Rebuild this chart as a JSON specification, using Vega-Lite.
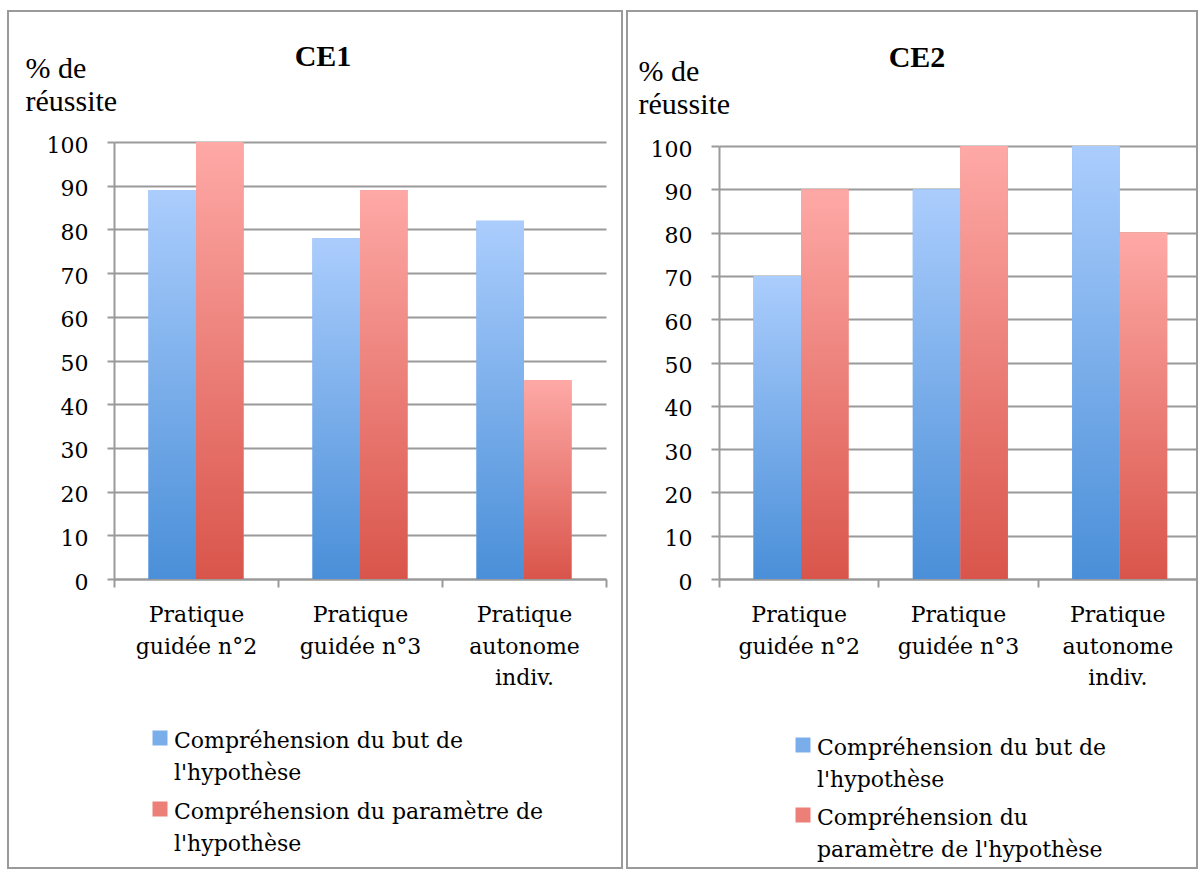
{
  "$schema": "https://vega.github.io/schema/vega-lite/v6.json",
  "background": "white",
  "padding": {"left": 7, "top": 10, "right": 0, "bottom": 0},
  "spacing": 3,
  "config": {
    "view": {"stroke": "#9a9a9a", "strokeWidth": 2},
    "style": {"guide-label": {"lineHeight": 32.5, "dy": 9.5}}
  },
  "datasets": {
    "d": [
      {"classe": "CE1", "pratique": "Pratique guidée n°2", "serie": "Compréhension du but de l'hypothèse", "valeur": 89},
      {"classe": "CE1", "pratique": "Pratique guidée n°2", "serie": "Compréhension du paramètre de l'hypothèse", "valeur": 100},
      {"classe": "CE1", "pratique": "Pratique guidée n°3", "serie": "Compréhension du but de l'hypothèse", "valeur": 78},
      {"classe": "CE1", "pratique": "Pratique guidée n°3", "serie": "Compréhension du paramètre de l'hypothèse", "valeur": 89},
      {"classe": "CE1", "pratique": "Pratique autonome indiv.", "serie": "Compréhension du but de l'hypothèse", "valeur": 82},
      {"classe": "CE1", "pratique": "Pratique autonome indiv.", "serie": "Compréhension du paramètre de l'hypothèse", "valeur": 45.5},
      {"classe": "CE2", "pratique": "Pratique guidée n°2", "serie": "Compréhension du but de l'hypothèse", "valeur": 70},
      {"classe": "CE2", "pratique": "Pratique guidée n°2", "serie": "Compréhension du paramètre de l'hypothèse", "valeur": 90},
      {"classe": "CE2", "pratique": "Pratique guidée n°3", "serie": "Compréhension du but de l'hypothèse", "valeur": 90},
      {"classe": "CE2", "pratique": "Pratique guidée n°3", "serie": "Compréhension du paramètre de l'hypothèse", "valeur": 100},
      {"classe": "CE2", "pratique": "Pratique autonome indiv.", "serie": "Compréhension du but de l'hypothèse", "valeur": 100},
      {"classe": "CE2", "pratique": "Pratique autonome indiv.", "serie": "Compréhension du paramètre de l'hypothèse", "valeur": 80}
    ]
  },
  "resolve": {"scale": {"fill": "independent", "x": "independent", "y": "independent"}, "legend": {"fill": "independent"}},
  "hconcat": [
    {
      "width": 614,
      "height": 857,
      "data": {"name": "d"},
      "transform": [{"filter": "datum.classe == 'CE1'"}],
      "title": {"text": "CE1", "font": "Liberation Serif", "fontSize": 30, "fontWeight": "bold", "color": "black", "anchor": "middle", "frame": "group", "baseline": "alphabetic", "offset": -85, "dx": 8},
      "encoding": {
        "x": {
          "field": "pratique", "type": "nominal",
          "sort": ["Pratique guidée n°2", "Pratique guidée n°3", "Pratique autonome indiv."],
          "scale": {"range": [106, 598], "paddingInner": 0, "paddingOuter": 0},
          "axis": {
            "orient": "bottom", "offset": -289, "tickBand": "extent", "grid": false, "title": null,
            "domainColor": "#9a9a9a", "domainWidth": 2, "tickColor": "#9a9a9a", "tickWidth": 2, "tickSize": 8,
            "labelFont": "DejaVu Serif", "labelFontSize": 22, "labelColor": "black", "labelAngle": 0,
            "labelBaseline": "alphabetic", "labelPadding": 25, "labelLineHeight": 31.5, "labelLimit": 400,
            "labelExpr": "datum.label == 'Pratique guidée n°2' ? ['Pratique', 'guidée n°2'] : datum.label == 'Pratique guidée n°3' ? ['Pratique', 'guidée n°3'] : datum.label == 'Pratique autonome indiv.' ? ['Pratique', 'autonome', 'indiv.'] : ''"
          }
        },
        "xOffset": {
          "field": "serie", "type": "nominal",
          "sort": ["Compréhension du but de l'hypothèse", "Compréhension du paramètre de l'hypothèse"],
          "scale": {"paddingInner": 0, "paddingOuter": 0.725}
        },
        "y": {
          "field": "valeur", "type": "quantitative",
          "scale": {"domain": [0, 100], "range": [568, 131], "nice": false, "zero": true},
          "axis": {
            "orient": "left", "offset": -106, "values": [0, 10, 20, 30, 40, 50, 60, 70, 80, 90, 100],
            "grid": true, "gridColor": "#9a9a9a", "gridWidth": 2,
            "domainColor": "#9a9a9a", "domainWidth": 2, "tickColor": "#9a9a9a", "tickWidth": 2, "tickSize": 7,
            "labelFont": "DejaVu Serif", "labelFontSize": 22, "labelColor": "black", "labelPadding": 19, "labelOffset": -6.5, "labelOverlap": false,
            "title": ["% de", "réussite"], "titleFont": "Liberation Serif", "titleFontSize": 30, "titleFontWeight": "normal", "titleColor": "black",
            "titleAngle": 0, "titleAlign": "left", "titleBaseline": "alphabetic", "titleX": -89, "titleY": 66, "titleLineHeight": 33
          }
        }
      },
      "layer": [
        {
          "mark": {"type": "bar", "strokeWidth": 0},
          "encoding": {
            "fill": {
              "field": "serie", "type": "nominal",
              "scale": {"domain": ["Compréhension du but de l'hypothèse", "Compréhension du paramètre de l'hypothèse"], "range": ["#7aaeea", "#ec7f77"]},
              "legend": {
                "orient": "none", "legendX": 141, "legendY": 716, "direction": "vertical", "title": null, "padding": 0,
                "symbolType": "square", "symbolSize": 225, "symbolStrokeWidth": 0,
                "labelFont": "DejaVu Serif", "labelFontSize": 22, "labelColor": "black", "labelOffset": 3,
                "labelBaseline": "alphabetic", "labelLimit": 600, "rowPadding": 14,
                "labelExpr": "indexof(datum.label, 'but') >= 0 ? ['Compréhension du but de', \"l'hypothèse\"] : ['Compréhension du paramètre de', \"l'hypothèse\"]"
              }
            }
          }
        },
        {
          "mark": {"type": "bar", "strokeWidth": 0},
          "encoding": {
            "fill": {
              "condition": {"test": "indexof(datum.serie, 'but') >= 0", "value": {"gradient": "linear", "x1": 0, "y1": 0, "x2": 0, "y2": 1, "stops": [{"offset": 0, "color": "#abcdfd"}, {"offset": 1, "color": "#4a8fd8"}]}},
              "value": {"gradient": "linear", "x1": 0, "y1": 0, "x2": 0, "y2": 1, "stops": [{"offset": 0, "color": "#fea9a6"}, {"offset": 1, "color": "#d9554b"}]}
            }
          }
        }
      ]
    },
    {
      "width": 570,
      "height": 857,
      "data": {"name": "d"},
      "transform": [{"filter": "datum.classe == 'CE2'"}],
      "title": {"text": "CE2", "font": "Liberation Serif", "fontSize": 30, "fontWeight": "bold", "color": "black", "anchor": "middle", "frame": "group", "baseline": "alphabetic", "offset": -86, "dx": 5},
      "encoding": {
        "x": {
          "field": "pratique", "type": "nominal",
          "sort": ["Pratique guidée n°2", "Pratique guidée n°3", "Pratique autonome indiv."],
          "scale": {"range": [92, 570], "paddingInner": 0, "paddingOuter": 0},
          "axis": {
            "orient": "bottom", "offset": -289, "tickBand": "extent", "grid": false, "title": null,
            "domainColor": "#9a9a9a", "domainWidth": 2, "tickColor": "#9a9a9a", "tickWidth": 2, "tickSize": 8,
            "labelFont": "DejaVu Serif", "labelFontSize": 22, "labelColor": "black", "labelAngle": 0,
            "labelBaseline": "alphabetic", "labelPadding": 25, "labelLineHeight": 31.5, "labelLimit": 400,
            "labelExpr": "datum.label == 'Pratique guidée n°2' ? ['Pratique', 'guidée n°2'] : datum.label == 'Pratique guidée n°3' ? ['Pratique', 'guidée n°3'] : datum.label == 'Pratique autonome indiv.' ? ['Pratique', 'autonome', 'indiv.'] : ''"
          }
        },
        "xOffset": {
          "field": "serie", "type": "nominal",
          "sort": ["Compréhension du but de l'hypothèse", "Compréhension du paramètre de l'hypothèse"],
          "scale": {"paddingInner": 0, "paddingOuter": 0.695}
        },
        "y": {
          "field": "valeur", "type": "quantitative",
          "scale": {"domain": [0, 100], "range": [568, 135], "nice": false, "zero": true},
          "axis": {
            "orient": "left", "offset": -92, "values": [0, 10, 20, 30, 40, 50, 60, 70, 80, 90, 100],
            "grid": true, "gridColor": "#9a9a9a", "gridWidth": 2,
            "domainColor": "#9a9a9a", "domainWidth": 2, "tickColor": "#9a9a9a", "tickWidth": 2, "tickSize": 8,
            "labelFont": "DejaVu Serif", "labelFontSize": 22, "labelColor": "black", "labelPadding": 19, "labelOffset": -6.5, "labelOverlap": false,
            "title": ["% de", "réussite"], "titleFont": "Liberation Serif", "titleFontSize": 30, "titleFontWeight": "normal", "titleColor": "black",
            "titleAngle": 0, "titleAlign": "left", "titleBaseline": "alphabetic", "titleX": -81, "titleY": 69, "titleLineHeight": 33
          }
        }
      },
      "layer": [
        {
          "mark": {"type": "bar", "strokeWidth": 0},
          "encoding": {
            "fill": {
              "field": "serie", "type": "nominal",
              "scale": {"domain": ["Compréhension du but de l'hypothèse", "Compréhension du paramètre de l'hypothèse"], "range": ["#7aaeea", "#ec7f77"]},
              "legend": {
                "orient": "none", "legendX": 165, "legendY": 723, "direction": "vertical", "title": null, "padding": 0,
                "symbolType": "square", "symbolSize": 225, "symbolStrokeWidth": 0,
                "labelFont": "DejaVu Serif", "labelFontSize": 22, "labelColor": "black", "labelOffset": 3,
                "labelBaseline": "alphabetic", "labelLimit": 600, "rowPadding": 13,
                "labelExpr": "indexof(datum.label, 'but') >= 0 ? ['Compréhension du but de', \"l'hypothèse\"] : ['Compréhension du', \"paramètre de l'hypothèse\"]"
              }
            }
          }
        },
        {
          "mark": {"type": "bar", "strokeWidth": 0},
          "encoding": {
            "fill": {
              "condition": {"test": "indexof(datum.serie, 'but') >= 0", "value": {"gradient": "linear", "x1": 0, "y1": 0, "x2": 0, "y2": 1, "stops": [{"offset": 0, "color": "#abcdfd"}, {"offset": 1, "color": "#4a8fd8"}]}},
              "value": {"gradient": "linear", "x1": 0, "y1": 0, "x2": 0, "y2": 1, "stops": [{"offset": 0, "color": "#fea9a6"}, {"offset": 1, "color": "#d9554b"}]}
            }
          }
        }
      ]
    }
  ]
}
